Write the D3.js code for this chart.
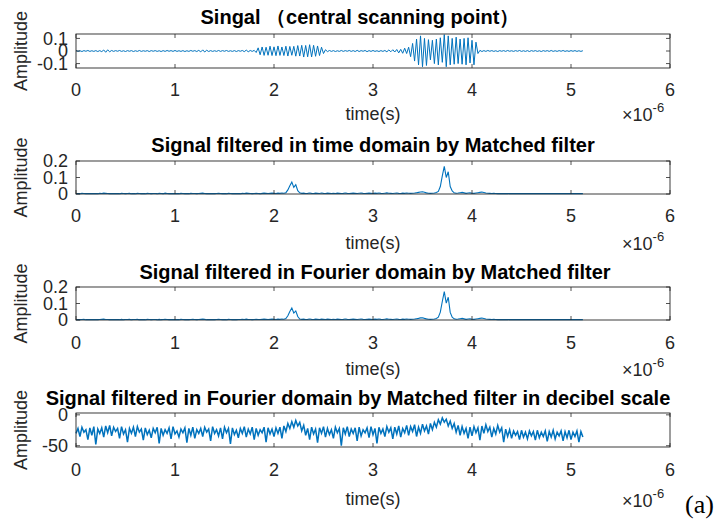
<!DOCTYPE html>
<html>
<head>
<meta charset="utf-8">
<script src="https://cdn.jsdelivr.net/npm/d3@7"></script>
<style>
  body { margin: 0; background: #fff; }
  svg { display: block; font-family: "Liberation Sans", Arial, sans-serif; }
</style>
</head>
<body>
<svg width="725" height="523"></svg>
<script>
//  Sample spacing of every trace, in microseconds (x axis is shown x 10^-6)
const sampleStep = 0.02;
const xTicks = [0, 1, 2, 3, 4, 5, 6];

//  Raw signal at the central scanning point
const rawSignal = [
  .004,-.003,.002,-.004,.003,-.002,.004,-.003,.002,-.003,
  .003,-.004,.003,-.005,.008,-.010,.009,-.006,.004,-.003,
  .003,-.002,.004,-.003,.002,-.004,.003,-.002,.003,-.004,
  .002,-.003,.004,-.003,.002,-.002,.003,-.004,.003,-.002,
  .003,-.003,.002,-.004,.003,-.003,.004,-.002,.003,-.003,
  .004,-.003,.002,-.003,.003,-.004,.002,-.003,.004,-.002,
  .003,-.004,.005,-.007,.009,-.008,.006,-.004,.003,-.003,
  .002,-.003,.004,-.003,.003,-.002,.004,-.003,.002,-.003,
  .003,-.004,.003,-.002,.004,-.005,.007,-.006,.004,-.003,
  .005,-.012,.025,-.030,.032,-.035,.030,-.034,.038,-.036,
  .033,-.037,.040,-.035,.032,-.036,.038,-.040,.036,-.034,
  .037,-.041,.043,-.040,.045,-.048,.044,-.046,.050,-.047,
  .045,-.042,.040,-.036,.030,-.020,.010,-.005,.004,-.003,
  .003,-.004,.002,-.003,.004,-.003,.003,-.002,.004,-.003,
  .003,-.004,.005,-.004,.003,-.002,.004,-.005,.003,-.003,
  .004,-.003,.002,-.004,.003,-.003,.004,-.006,.008,-.006,
  .010,-.008,.012,-.015,.013,-.018,.022,-.020,.030,-.045,
  .060,-.080,.095,-.110,.120,-.125,.100,-.115,.090,-.070,
  .085,-.100,.095,-.110,.105,-.090,.130,-.125,.120,-.110,
  .100,-.105,.110,-.100,.095,-.105,.100,-.110,.105,-.095,
  .085,-.110,.070,-.020,.005,-.004,.003,-.003,.004,-.002,
  .003,-.003,.002,-.004,.003,-.002,.003,-.003,.004,-.002,
  .002,-.003,.003,-.002,.004,-.003,.002,-.003,.003,-.004,
  .003,-.002,.003,-.003,.002,-.004,.003,-.002,.003,-.003,
  .004,-.003,.002,-.003,.003,-.002,.004,-.003,.002,-.003,
  .003,-.002,.003,-.003,.002,-.003,.002
];

//  Output of the matched filter applied in the time domain
const timeFiltered = [
  .002,.003,.002,.004,.003,.002,.003,.002,.003,.002,
  .003,.002,.004,.003,.005,.004,.003,.002,.003,.002,
  .002,.003,.002,.004,.003,.002,.003,.004,.002,.003,
  .002,.004,.003,.002,.003,.002,.004,.003,.002,.003,
  .003,.002,.004,.003,.002,.005,.003,.002,.003,.002,
  .002,.003,.002,.004,.003,.002,.003,.002,.004,.003,
  .003,.002,.003,.004,.005,.003,.002,.003,.002,.003,
  .002,.003,.004,.003,.002,.003,.002,.004,.003,.002,
  .003,.002,.003,.002,.004,.003,.005,.004,.003,.002,
  .003,.004,.003,.002,.004,.005,.004,.003,.004,.005,
  .004,.003,.005,.004,.006,.005,.008,.025,.050,.072,
  .040,.056,.020,.007,.004,.005,.003,.004,.006,.004,
  .003,.005,.004,.003,.006,.004,.003,.005,.004,.003,
  .004,.003,.005,.004,.003,.004,.006,.004,.003,.004,
  .005,.004,.003,.005,.006,.004,.003,.004,.005,.004,
  .003,.005,.004,.006,.004,.003,.005,.007,.005,.004,
  .003,.005,.006,.004,.003,.005,.004,.006,.005,.004,
  .005,.006,.008,.010,.012,.014,.011,.007,.005,.004,
  .005,.006,.009,.016,.045,.110,.168,.100,.135,.045,
  .018,.007,.005,.006,.008,.010,.007,.004,.006,.007,
  .005,.004,.006,.008,.010,.012,.009,.006,.005,.004,
  .003,.004,.003,.002,.003,.002,.003,.002,.002,.003,
  .002,.002,.003,.002,.002,.003,.002,.002,.003,.002,
  .002,.003,.002,.002,.003,.002,.002,.003,.002,.002,
  .003,.002,.002,.003,.002,.002,.003,.002,.002,.003,
  .002,.002,.003,.002,.002,.003,.002
];

//  Output of the matched filter applied in the Fourier domain
const fourierFiltered = [
  .002,.003,.002,.003,.004,.002,.003,.002,.003,.002,
  .003,.002,.003,.004,.005,.003,.003,.002,.003,.002,
  .002,.003,.002,.004,.002,.003,.003,.004,.002,.003,
  .003,.004,.002,.002,.003,.002,.004,.003,.002,.003,
  .003,.002,.004,.002,.003,.004,.003,.002,.003,.002,
  .002,.003,.002,.004,.003,.002,.003,.002,.003,.004,
  .003,.002,.003,.004,.005,.004,.002,.003,.002,.003,
  .002,.003,.004,.003,.002,.003,.002,.004,.003,.002,
  .003,.002,.003,.003,.004,.003,.005,.003,.003,.002,
  .003,.004,.003,.003,.004,.005,.004,.003,.004,.005,
  .004,.003,.005,.004,.006,.005,.009,.026,.052,.073,
  .042,.055,.021,.006,.004,.005,.003,.004,.006,.004,
  .003,.005,.004,.003,.005,.004,.003,.005,.004,.003,
  .004,.003,.005,.004,.003,.004,.006,.004,.003,.004,
  .005,.004,.003,.005,.006,.004,.003,.004,.005,.004,
  .003,.005,.004,.006,.004,.003,.005,.007,.005,.004,
  .003,.005,.006,.004,.003,.005,.004,.006,.005,.004,
  .005,.006,.008,.010,.013,.014,.010,.007,.005,.004,
  .005,.006,.009,.017,.048,.112,.172,.102,.138,.046,
  .017,.007,.005,.006,.008,.010,.007,.004,.006,.007,
  .005,.004,.006,.008,.010,.012,.009,.006,.005,.004,
  .003,.004,.003,.002,.003,.002,.003,.002,.002,.003,
  .002,.002,.003,.002,.002,.003,.002,.002,.003,.002,
  .002,.003,.002,.002,.003,.002,.002,.003,.002,.002,
  .003,.002,.002,.003,.002,.002,.003,.002,.002,.003,
  .002,.002,.003,.002,.002,.003,.002
];

//  Fourier-domain output in decibels
const fourierFilteredDb = [
  -30,-22,-35,-20,-28,-24,-40,-21,-33,-19,
  -48,-23,-30,-21,-36,-18,-29,-17,-34,-20,
  -27,-22,-38,-19,-31,-24,-44,-22,-30,-20,
  -35,-19,-28,-23,-41,-21,-32,-25,-37,-22,
  -29,-20,-46,-22,-33,-24,-30,-21,-39,-19,
  -31,-26,-36,-23,-29,-21,-45,-22,-33,-20,
  -38,-24,-30,-22,-35,-20,-28,-23,-42,-19,
  -30,-24,-34,-21,-39,-20,-29,-22,-47,-21,
  -32,-25,-37,-22,-30,-19,-36,-23,-31,-20,
  -40,-22,-33,-24,-29,-20,-44,-21,-31,-23,
  -35,-21,-30,-20,-38,-18,-27,-14,-22,-11,
  -20,-9,-18,-12,-26,-17,-33,-22,-40,-20,
  -31,-23,-45,-21,-30,-19,-36,-22,-32,-24,
  -38,-20,-29,-22,-50,-21,-31,-19,-35,-23,
  -30,-21,-42,-20,-34,-24,-29,-21,-37,-19,
  -32,-22,-46,-20,-30,-23,-35,-19,-28,-21,
  -39,-20,-31,-18,-36,-22,-29,-17,-33,-19,
  -27,-16,-35,-20,-30,-15,-26,-18,-31,-14,
  -24,-12,-20,-8,-15,-5,-12,-7,-18,-10,
  -22,-14,-28,-17,-33,-19,-30,-22,-38,-20,
  -34,-19,-29,-21,-41,-18,-30,-16,-27,-20,
  -36,-22,-31,-17,-28,-21,-44,-23,-35,-24,
  -38,-26,-33,-27,-40,-25,-36,-28,-39,-26,
  -34,-27,-41,-25,-37,-28,-35,-26,-43,-27,
  -36,-25,-39,-28,-34,-26,-42,-27,-37,-25,
  -40,-28,-35,-26,-44,-27,-36
];

const panelTitles = [
  'Singal （central scanning point）',
  'Signal filtered in time domain by Matched filter',
  'Signal filtered in Fourier domain by Matched filter',
  'Signal filtered in Fourier domain by Matched filter in decibel scale'
];
const yDomains = [[-0.135, 0.135], [0, 0.2], [0, 0.2], [-52, 3]];
const yTickSets = [[-0.1, 0, 0.1], [0, 0.1, 0.2], [0, 0.1, 0.2], [-50, 0]];
const series = [rawSignal, timeFiltered, fourierFiltered, fourierFilteredDb];


const svg = d3.select('svg');
const axLeft = 76, axRight = 670;
const lineColor = '#0072BD';
const axisColor = '#262626';
const tickLen = 4;
const traceWidths = [1, 1.1, 1.1, 1.5];
const titleCenters = [360, 373, 375, 358];

//  vertical layout of each subplot: box top/bottom and text baselines
const layout = [
  { top: 34,  bottom: 68,  title: 24,  tick: 96,  label: 120, exp: 121 },
  { top: 161, bottom: 194, title: 152, tick: 222, label: 249, exp: 250 },
  { top: 287, bottom: 320, title: 279, tick: 349, label: 375, exp: 376 },
  { top: 413, bottom: 447, title: 405, tick: 476, label: 505, exp: 507 }
];

svg.append('rect').attr('width', 725).attr('height', 523).attr('fill', '#fff');

const xScale = d3.scaleLinear().domain([0, 6]).range([axLeft, axRight]);

series.forEach((values, k) => drawPanel(k, values));

function drawPanel(k, values) {
  const L = layout[k];
  const yScale = d3.scaleLinear().domain(yDomains[k]).range([L.bottom, L.top]);
  const g = svg.append('g').attr('class', 'panel');

  //======================================
  //  Trace
  //======================================
  const line = d3.line()
    .x((d, i) => xScale(i * sampleStep))
    .y(d => yScale(d));

  g.append('path')
    .datum(values)
    .attr('d', line)
    .attr('fill', 'none')
    .attr('stroke', lineColor)
    .attr('stroke-width', traceWidths[k])
    .attr('stroke-linejoin', 'miter');

  //======================================
  //  Box and ticks
  //======================================
  g.append('rect')
    .attr('x', axLeft).attr('y', L.top)
    .attr('width', axRight - axLeft).attr('height', L.bottom - L.top)
    .attr('fill', 'none').attr('stroke', axisColor).attr('stroke-width', 0.9);

  xTicks.forEach(t => {
    const x = xScale(t);
    g.append('line').attr('x1', x).attr('x2', x).attr('y1', L.bottom).attr('y2', L.bottom - tickLen)
      .attr('stroke', axisColor).attr('stroke-width', 0.8);
    g.append('line').attr('x1', x).attr('x2', x).attr('y1', L.top).attr('y2', L.top + tickLen)
      .attr('stroke', axisColor).attr('stroke-width', 0.8);
    g.append('text')
      .attr('x', x).attr('y', L.tick)
      .attr('text-anchor', 'middle')
      .attr('font-size', 18).attr('fill', axisColor)
      .text(t);
  });

  yTickSets[k].forEach(v => {
    const y = yScale(v);
    g.append('line').attr('x1', axLeft).attr('x2', axLeft + tickLen).attr('y1', y).attr('y2', y)
      .attr('stroke', axisColor).attr('stroke-width', 0.8);
    g.append('line').attr('x1', axRight).attr('x2', axRight - tickLen).attr('y1', y).attr('y2', y)
      .attr('stroke', axisColor).attr('stroke-width', 0.8);
    g.append('text')
      .attr('x', axLeft - 8).attr('y', y)
      .attr('dy', '0.35em')
      .attr('text-anchor', 'end')
      .attr('font-size', 18).attr('fill', axisColor)
      .text(v);
  });

  //======================================
  //  Labels
  //======================================
  g.append('text')
    .attr('x', titleCenters[k]).attr('y', L.title)
    .attr('text-anchor', 'middle')
    .attr('font-size', 20).attr('font-weight', 'bold').attr('fill', '#000')
    .text(panelTitles[k]);

  g.append('text')
    .attr('x', (axLeft + axRight) / 2).attr('y', L.label)
    .attr('text-anchor', 'middle')
    .attr('font-size', 18).attr('fill', axisColor)
    .text('time(s)');

  const exp = g.append('text')
    .attr('x', 622).attr('y', L.exp)
    .attr('font-size', 18).attr('fill', axisColor);
  exp.append('tspan').text('×10');
  exp.append('tspan').attr('dy', -9).attr('font-size', 13).text('-6');

  g.append('text')
    .attr('transform', `translate(27, ${(L.top + L.bottom) / 2}) rotate(-90)`)
    .attr('text-anchor', 'middle')
    .attr('font-size', 18).attr('fill', axisColor)
    .text('Amplitude');
}

//  panel letter
svg.append('text')
  .attr('x', 685).attr('y', 513)
  .attr('font-family', '"Liberation Serif", "Times New Roman", serif')
  .attr('font-size', 26).attr('fill', '#000')
  .text('(a)');
</script>
</body>
</html>
